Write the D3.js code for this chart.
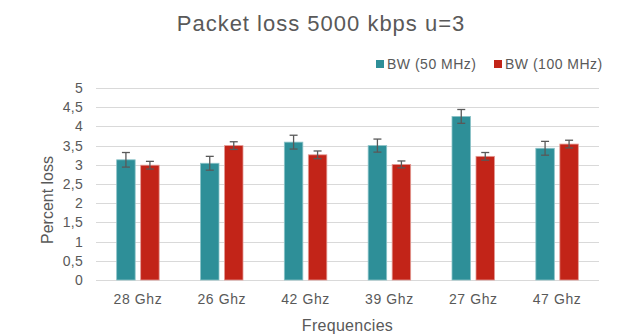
<!DOCTYPE html>
<html><head><meta charset="utf-8">
<script src="https://cdn.jsdelivr.net/npm/d3@7"></script>
<style>body{margin:0;background:#fff}svg{display:block;font-family:"Liberation Sans",Arial,sans-serif}</style>
</head><body>
<script>
const categories = ["28 Ghz","26 Ghz","42 Ghz","39 Ghz","27 Ghz","47 Ghz"];
const seriesNames = ["BW (50 MHz)","BW (100 MHz)"];
const bw50 = [3.13,3.04,3.59,3.50,4.26,3.43];
const bw50Err = [0.19,0.18,0.18,0.17,0.18,0.18];
const bw100 = [2.99,3.50,3.26,3.01,3.22,3.54];
const bw100Err = [0.10,0.10,0.10,0.09,0.10,0.10];
const yTicks = [0,0.5,1,1.5,2,2.5,3,3.5,4,4.5,5];
const colors = ["#2E8F98","#C22418"];

const W=641,H=334;
const m={left:96,right:42,top:88,bottom:54};
const svg=d3.select("body").append("svg").attr("width",W).attr("height",H);
const x=d3.scaleBand().domain(categories).range([m.left,W-m.right]).paddingInner(0).paddingOuter(0);
const y=d3.scaleLinear().domain([0,5]).range([H-m.bottom,m.top]);
const data=[bw50,bw100], errs=[bw50Err,bw100Err];
const barW=18.5, gap=5.5;

// gridlines
svg.append("g").selectAll("line").data(yTicks).join("line")
 .attr("x1",m.left).attr("x2",W-m.right)
 .attr("y1",d=>Math.round(y(d))+0.5).attr("y2",d=>Math.round(y(d))+0.5)
 .attr("stroke","#d9d9d9").attr("stroke-width",1);

// y tick labels
svg.append("g").selectAll("text").data(yTicks).join("text")
 .attr("x",83).attr("y",d=>y(d)).attr("dy","0.35em").attr("text-anchor","end")
 .attr("font-size",14).attr("letter-spacing",0.3).attr("fill","#595959")
 .text(d=>String(d).replace(".",","));

// bars
data.forEach((vals,s)=>{
  const off = s===0 ? -gap/2-barW : gap/2;
  svg.append("g").selectAll("rect").data(vals).join("rect")
   .attr("x",(d,i)=>x(categories[i])+x.bandwidth()/2+off)
   .attr("width",barW)
   .attr("y",d=>y(d)).attr("height",d=>y(0)-y(d))
   .attr("fill",colors[s]).attr("stroke",s===0?"#8cc3c8":"#e39a94").attr("stroke-width",0.8);
  const g=svg.append("g").attr("stroke","#595959").attr("stroke-width",1.3);
  vals.forEach((d,i)=>{
    const cx=x(categories[i])+x.bandwidth()/2+off+barW/2;
    const e=errs[s][i];
    g.append("line").attr("x1",cx).attr("x2",cx).attr("y1",y(d+e)).attr("y2",y(d-e));
    g.append("line").attr("x1",cx-4).attr("x2",cx+4).attr("y1",y(d+e)).attr("y2",y(d+e));
    g.append("line").attr("x1",cx-4).attr("x2",cx+4).attr("y1",y(d-e)).attr("y2",y(d-e));
  });
});

// x labels
svg.append("g").selectAll("text").data(categories).join("text")
 .attr("x",d=>x(d)+x.bandwidth()/2).attr("y",304).attr("text-anchor","middle")
 .attr("font-size",14).attr("letter-spacing",0.6).attr("fill","#595959").text(d=>d);

// title
svg.append("text").attr("x",321).attr("y",31).attr("text-anchor","middle")
 .attr("font-size",22).attr("letter-spacing",1).attr("fill","#595959").text("Packet loss 5000 kbps u=3");

// axis titles
svg.append("text").attr("x",(m.left+W-m.right)/2).attr("y",331).attr("text-anchor","middle")
 .attr("font-size",16).attr("letter-spacing",0.3).attr("fill","#595959").text("Frequencies");
svg.append("text").attr("transform","translate(53,200) rotate(-90)").attr("text-anchor","middle")
 .attr("font-size",16).attr("fill","#595959").text("Percent loss");

// legend
const legX=[376,494];
seriesNames.forEach((n,i)=>{
  svg.append("rect").attr("x",legX[i]).attr("y",60).attr("width",8).attr("height",8).attr("fill",colors[i]);
  svg.append("text").attr("x",legX[i]+11).attr("y",64).attr("dy","0.35em")
   .attr("font-size",14).attr("letter-spacing",0.5).attr("fill","#595959").text(n);
});
</script>
</body></html>
